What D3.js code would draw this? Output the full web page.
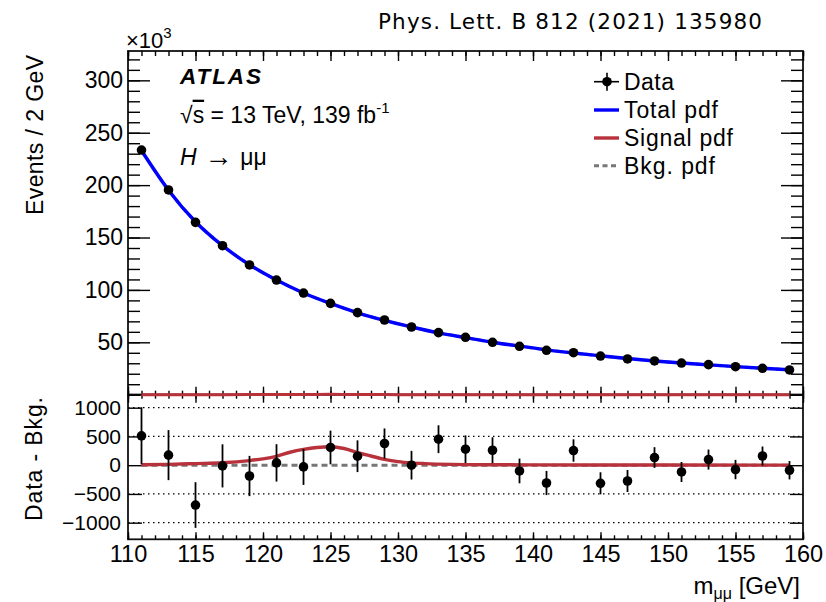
<!DOCTYPE html>
<html>
<head>
<meta charset="utf-8">
<script src="https://cdn.jsdelivr.net/npm/d3@7"></script>
<style>
  body { margin: 0; background: #fff; }
  text { font-family: "Liberation Sans", Arial, Helvetica, sans-serif; fill: #000; }
</style>
</head>
<body>
<svg id="chart"></svg>
<script>
// bin centres in GeV
const massBins = [111, 113, 115, 117, 119, 121, 123, 125, 127, 129, 131, 133, 135,
  137, 139, 141, 143, 145, 147, 149, 151, 153, 155, 157, 159];
// events / 2 GeV, in thousands
const eventsK = [233.5, 195.4, 164.5, 142.2, 123.8, 109.4, 97.0, 87.2, 78.3, 71.3, 64.6, 59.2, 54.8,
  50.0, 46.2, 42.4, 40.1, 36.9, 34.1, 32.2, 30.2, 28.7, 26.7, 25.2, 23.6];
// total pdf read at the bin centres, in thousands
const totalPdfK = [233.0, 195.2, 165.0, 142.2, 124.0, 109.4, 97.1, 87.1, 78.2, 70.9, 64.6, 59.0, 54.5,
  50.1, 46.3, 42.8, 39.8, 37.1, 34.5, 32.2, 30.2, 28.5, 26.8, 25.2, 23.7];
// data - bkg and its error
const diffData = [510, 175, -693, -12, -188, 40, -30, 308, 156, 377, 0, 452, 278,
  260, -100, -310, 255, -315, -275, 133, -118, 98, -76, 160, -88];
const diffErr = [495, 435, 397, 375, 350, 325, 313, 293, 276, 262, 249, 242, 240,
  225, 215, 210, 195, 192, 191, 180, 174, 174, 168, 165, 160];
// signal pdf
const sigMass = [111, 113, 115, 117, 119, 120, 121, 122, 123, 124, 125, 126, 127, 128,
  129, 130, 131, 132, 134, 137, 140, 145, 150, 159];
const sigVals = [8, 15, 28, 42, 80, 110, 155, 225, 275, 308, 320, 290, 220, 160,
  102, 62, 40, 28, 15, 8, 5, 3, 2, 1];
const bkgMass = [111, 159];
const bkgDiff = [0, 0];

const xMajor = [110, 115, 120, 125, 130, 135, 140, 145, 150, 155, 160];
const yTopMajor = [50, 100, 150, 200, 250, 300];
const yBotMajor = [-1000, -500, 0, 500, 1000];
const gridVals = [-1000, -500, 500, 1000];

const W = 826, H = 602,
  fr = { l: 128, r: 803, t: 51, m: 394.7, b: 539.3 };

const svg = d3.select('#chart').attr('width', W).attr('height', H);

const x = d3.scaleLinear().domain([110, 160]).range([fr.l, fr.r]),
  yTop = d3.scaleLinear().domain([0, 328]).range([fr.m, fr.t]),
  yBot = d3.scaleLinear().domain([-1289, 1226]).range([fr.b, fr.m]);

const xMinor = d3.range(110, 161, 1),
  yTopMinor = d3.range(0, 330, 10);

const styleAxis = (g, fs) => {
  g.select('.domain').remove();
  g.selectAll('line').attr('stroke', '#000').attr('stroke-width', 1.4);
  g.selectAll('text').attr('font-size', fs).attr('font-family', '"Liberation Sans", Arial, sans-serif');
  g.attr('font-family', null);
};
const addAxis = (axis, tx, ty, fs) => {
  svg.append('g').attr('transform', 'translate(' + tx + ',' + ty + ')')
    .call(axis).call((g) => styleAxis(g, fs));
};

// grid lines in lower panel
svg.append('g').selectAll('line').data(gridVals).enter().append('line')
  .attr('x1', fr.l).attr('x2', fr.r)
  .attr('y1', (d) => yBot(d)).attr('y2', (d) => yBot(d))
  .attr('stroke', '#000').attr('stroke-width', 1.2).attr('stroke-dasharray', '1.5,3.5');

// frames
svg.append('rect').attr('x', fr.l).attr('y', fr.t).attr('width', fr.r - fr.l).attr('height', fr.m - fr.t)
  .attr('fill', 'none').attr('stroke', '#111').attr('stroke-width', 1.8);
svg.append('rect').attr('x', fr.l).attr('y', fr.m).attr('width', fr.r - fr.l).attr('height', fr.b - fr.m)
  .attr('fill', 'none').attr('stroke', '#111').attr('stroke-width', 1.8);

// upper panel axes
addAxis(d3.axisLeft(yTop).tickValues(yTopMajor).tickSizeInner(-22).tickSizeOuter(0).tickPadding(5), fr.l, 0, 23);
addAxis(d3.axisLeft(yTop).tickValues(yTopMinor).tickSizeInner(-12).tickSizeOuter(0).tickFormat(''), fr.l, 0, 0);
addAxis(d3.axisRight(yTop).tickValues(yTopMajor).tickSizeInner(-22).tickSizeOuter(0).tickFormat(''), fr.r, 0, 0);
addAxis(d3.axisRight(yTop).tickValues(yTopMinor).tickSizeInner(-12).tickSizeOuter(0).tickFormat(''), fr.r, 0, 0);
addAxis(d3.axisBottom(x).tickValues(xMajor).tickSizeInner(10).tickSizeOuter(0).tickFormat(''), 0, fr.t, 0);
addAxis(d3.axisBottom(x).tickValues(xMinor).tickSizeInner(5).tickSizeOuter(0).tickFormat(''), 0, fr.t, 0);
addAxis(d3.axisTop(x).tickValues(xMajor).tickSizeInner(8).tickSizeOuter(0).tickFormat(''), 0, fr.m, 0);
addAxis(d3.axisTop(x).tickValues(xMinor).tickSizeInner(4).tickSizeOuter(0).tickFormat(''), 0, fr.m, 0);

// lower panel axes
addAxis(d3.axisLeft(yBot).tickValues(yBotMajor).tickSizeInner(-14).tickSizeOuter(0).tickPadding(7)
  .tickFormat((d) => d < 0 ? '\u2212' + Math.abs(d) : d), fr.l, 0, 21);
addAxis(d3.axisRight(yBot).tickValues(yBotMajor).tickSizeInner(-13).tickSizeOuter(0).tickFormat(''), fr.r, 0, 0);
addAxis(d3.axisBottom(x).tickValues(xMajor).tickSizeInner(8).tickSizeOuter(0).tickFormat(''), 0, fr.m, 0);
addAxis(d3.axisBottom(x).tickValues(xMinor).tickSizeInner(4).tickSizeOuter(0).tickFormat(''), 0, fr.m, 0);
addAxis(d3.axisBottom(x).tickValues(xMajor).tickSizeInner(-7).tickSizeOuter(0).tickPadding(6), 0, fr.b, 23.5);
addAxis(d3.axisBottom(x).tickValues(xMinor).tickSizeInner(-4).tickSizeOuter(0).tickFormat(''), 0, fr.b, 0);

// curves
const lineTop = d3.line().x((d) => x(d[0])).y((d) => yTop(d[1])).curve(d3.curveMonotoneX),
  lineBot = d3.line().x((d) => x(d[0])).y((d) => yBot(d[1])).curve(d3.curveMonotoneX);

const totalPts = d3.zip(massBins, totalPdfK),
  sigPtsTop = d3.zip(sigMass, sigVals.map((v) => v / 1000)),
  sigPtsBot = d3.zip(sigMass, sigVals),
  bkgPtsBot = d3.zip(bkgMass, bkgDiff);

svg.append('path').attr('d', lineTop(totalPts)).attr('fill', 'none')
  .attr('stroke', '#888').attr('stroke-width', 3).attr('stroke-dasharray', '6,4');
svg.append('path').attr('d', lineTop(totalPts)).attr('fill', 'none')
  .attr('stroke', '#0000ff').attr('stroke-width', 3.4);
svg.append('path').attr('d', lineTop(sigPtsTop)).attr('fill', 'none')
  .attr('stroke', '#b8323c').attr('stroke-width', 3);

svg.append('path').attr('d', lineBot(bkgPtsBot)).attr('fill', 'none')
  .attr('stroke', '#777').attr('stroke-width', 3).attr('stroke-dasharray', '6,4');
svg.append('path').attr('d', lineBot(sigPtsBot)).attr('fill', 'none')
  .attr('stroke', '#b8323c').attr('stroke-width', 3.4);

// data points
svg.append('g').selectAll('circle').data(d3.zip(massBins, eventsK)).enter().append('circle')
  .attr('cx', (d) => x(d[0])).attr('cy', (d) => yTop(d[1])).attr('r', 4.8).attr('fill', '#000');

const lowG = svg.append('g');
lowG.selectAll('line').data(d3.zip(massBins, diffData, diffErr)).enter().append('line')
  .attr('x1', (d) => x(d[0])).attr('x2', (d) => x(d[0]))
  .attr('y1', (d) => yBot(d[1] - d[2])).attr('y2', (d) => yBot(d[1] + d[2]))
  .attr('stroke', '#000').attr('stroke-width', 1.8);
lowG.selectAll('circle').data(d3.zip(massBins, diffData)).enter().append('circle')
  .attr('cx', (d) => x(d[0])).attr('cy', (d) => yBot(d[1])).attr('r', 4.8).attr('fill', '#000');

// texts
svg.append('text').text('Phys. Lett. B 812 (2021) 135980')
  .attr('x', 378).attr('y', 28.5).attr('font-size', 21.5)
  .attr('style', 'font-family:"DejaVu Sans",sans-serif')
  .attr('textLength', 384);

const x10 = svg.append('text').attr('x', 126).attr('y', 47.5).attr('font-size', 22);
x10.append('tspan').text('\u00d710');
x10.append('tspan').text('3').attr('font-size', 15).attr('dy', -10);

svg.append('text').text('ATLAS').attr('x', 180).attr('y', 84)
  .attr('font-size', 22.5).attr('font-weight', 'bold').attr('font-style', 'italic')
  .attr('textLength', 81);

const lumi = svg.append('text').attr('x', 180).attr('y', 122.7).attr('font-size', 23);
lumi.append('tspan').text('\u221a');
lumi.append('tspan').text('s').attr('style', 'text-decoration: overline');
lumi.append('tspan').text(' = 13 TeV, 139 fb');
lumi.append('tspan').text('-1').attr('font-size', 15).attr('dy', -10);

const proc = svg.append('text').attr('x', 180).attr('y', 165).attr('font-size', 23);
proc.append('tspan').text('H').attr('font-style', 'italic');
proc.append('tspan').text(' \u2192 ').attr('font-size', 28).attr('dy', 1);
proc.append('tspan').text('\u03bc\u03bc').attr('dy', -1);

// legend
const legendLabels = ['Data', 'Total pdf', 'Signal pdf', 'Bkg. pdf'],
  legendY = [81.7, 110, 138, 165.7],
  legendLen = [50, 94, 109, 91];
const lg = svg.append('g');
lg.selectAll('text').data(legendLabels).enter().append('text')
  .text((d) => d).attr('x', 624).attr('y', (d, i) => legendY[i] + 8)
  .attr('font-size', 23).attr('textLength', (d, i) => legendLen[i]);
lg.append('line').attr('x1', 594).attr('x2', 619).attr('y1', legendY[0]).attr('y2', legendY[0])
  .attr('stroke', '#000').attr('stroke-width', 1.6);
lg.append('line').attr('x1', 607).attr('x2', 607).attr('y1', legendY[0] - 9).attr('y2', legendY[0] + 9)
  .attr('stroke', '#000').attr('stroke-width', 1.6);
lg.append('circle').attr('cx', 607).attr('cy', legendY[0]).attr('r', 4.8).attr('fill', '#000');
lg.append('line').attr('x1', 594).attr('x2', 619).attr('y1', legendY[1]).attr('y2', legendY[1])
  .attr('stroke', '#0000ff').attr('stroke-width', 3.4);
lg.append('line').attr('x1', 594).attr('x2', 619).attr('y1', legendY[2]).attr('y2', legendY[2])
  .attr('stroke', '#b8323c').attr('stroke-width', 3.4);
lg.append('line').attr('x1', 594).attr('x2', 619).attr('y1', legendY[3]).attr('y2', legendY[3])
  .attr('stroke', '#777').attr('stroke-width', 3).attr('stroke-dasharray', '5,3.5');

// axis titles
svg.append('text').text('Events / 2 GeV').attr('text-anchor', 'end').attr('font-size', 23)
  .attr('textLength', 160)
  .attr('transform', 'translate(42.5,55) rotate(-90)');
svg.append('text').text('Data - Bkg.').attr('text-anchor', 'end').attr('font-size', 23)
  .attr('textLength', 124)
  .attr('transform', 'translate(42,397) rotate(-90)');

const xt = svg.append('text').attr('x', 800).attr('y', 594).attr('text-anchor', 'end').attr('font-size', 24);
xt.append('tspan').text('m');
xt.append('tspan').text('\u03bc\u03bc').attr('font-size', 16).attr('dy', 5);
xt.append('tspan').text(' [GeV]').attr('dy', -5);
</script>
</body>
</html>
